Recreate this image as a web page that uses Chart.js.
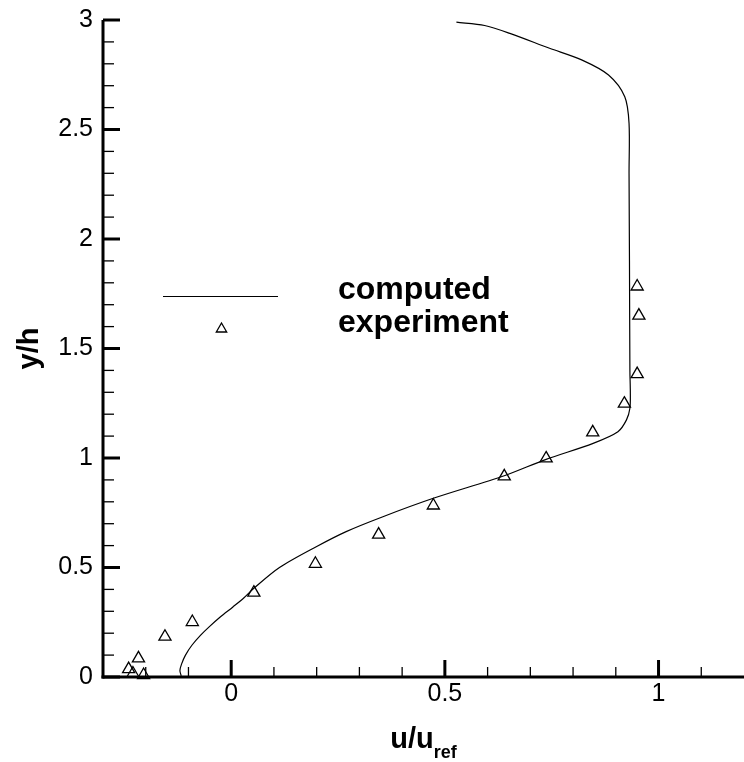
<!DOCTYPE html>
<html>
<head>
<meta charset="utf-8">
<script src="https://cdn.jsdelivr.net/npm/chart.js@4"></script>
<style>
  html, body { margin: 0; padding: 0; background: #fff; }
</style>
</head>
<body>
<canvas id="profile-chart" width="744" height="762"></canvas>
<script>
// computed velocity profile (u/u_ref vs y/h)
const computedU = [-0.117, -0.120, -0.116, -0.107, -0.092, -0.072, -0.051, -0.025, 0.004, 0.030, 0.053,
  0.113, 0.199, 0.269, 0.355, 0.473, 0.639, 0.737, 0.847, 0.905, 0.925, 0.933, 0.934, 0.933,
  0.932, 0.931, 0.931, 0.921, 0.883, 0.820, 0.745, 0.652, 0.593, 0.527];
const computedY = [0.005, 0.030, 0.060, 0.100, 0.145, 0.190, 0.230, 0.275, 0.320, 0.362, 0.405,
  0.500, 0.595, 0.664, 0.732, 0.816, 0.919, 0.994, 1.067, 1.120, 1.174, 1.227, 1.300, 1.400,
  1.900, 2.300, 2.528, 2.650, 2.749, 2.818, 2.871, 2.939, 2.975, 2.990];

// experiment
const expU = [-0.240, -0.230, -0.205, -0.217, -0.155, -0.091, 0.053, 0.197, 0.345, 0.473, 0.639,
  0.737, 0.846, 0.920, 0.950, 0.954, 0.950];
const expY = [0.036, 0.016, 0.009, 0.085, 0.184, 0.251, 0.385, 0.517, 0.650, 0.783, 0.916,
  0.998, 1.117, 1.248, 1.383, 1.650, 1.783];

const xTicks = [0, 0.5, 1];
const yTicks = [0, 0.5, 1, 1.5, 2, 2.5, 3];
const seriesNames = ['computed', 'experiment'];

const FONT = '"Liberation Sans", Arial, sans-serif';

function line(ctx, x1, y1, x2, y2) {
  ctx.beginPath();
  ctx.moveTo(x1, y1);
  ctx.lineTo(x2, y2);
  ctx.stroke();
}

function triangle(ctx, cx, cy, r) {
  ctx.beginPath();
  for (let i = 0; i < 3; i++) {
    const a = i * 2 * Math.PI / 3;
    const px = cx + Math.sin(a) * r, py = cy - Math.cos(a) * r;
    if (i === 0) ctx.moveTo(px, py); else ctx.lineTo(px, py);
  }
  ctx.closePath();
  ctx.stroke();
}

// axes, ticks, titles and legend drawn Tecplot-style
const framePlugin = {
  id: 'frame',
  afterDatasetsDraw(chart) {
    const { ctx, chartArea: a, scales: { x, y } } = chart;
    ctx.save();
    ctx.strokeStyle = '#000';
    ctx.fillStyle = '#000';

    // minor ticks every 0.1
    ctx.lineWidth = 1.3;
    for (let i = -2; i <= 11; i++) {
      const px = x.getPixelForValue(i / 10);
      line(ctx, px, a.bottom, px, a.bottom - 10);
    }
    for (let i = 1; i < 30; i++) {
      const py = y.getPixelForValue(i / 10);
      line(ctx, a.left, py, a.left + 11, py);
    }
    // major ticks
    ctx.lineWidth = 3;
    xTicks.forEach(v => { const px = x.getPixelForValue(v); line(ctx, px, a.bottom, px, a.bottom - 17); });
    yTicks.forEach(v => { const py = y.getPixelForValue(v); line(ctx, a.left, py, a.left + 17, py); });
    // axis lines
    line(ctx, a.left, a.top, a.left, a.bottom + 1.5);
    line(ctx, a.left - 1.5, a.bottom, a.right, a.bottom);

    // x title u/u_ref
    const cx = (a.left + a.right) / 2;
    ctx.textBaseline = 'alphabetic';
    ctx.textAlign = 'left';
    ctx.font = 'bold 29px ' + FONT;
    const w1 = ctx.measureText('u/u').width;
    ctx.font = 'bold 18px ' + FONT;
    const w2 = ctx.measureText('ref').width;
    const x0 = cx - (w1 + w2) / 2;
    ctx.font = 'bold 29px ' + FONT;
    ctx.fillText('u/u', x0, 748);
    ctx.font = 'bold 18px ' + FONT;
    ctx.fillText('ref', x0 + w1, 758);

    // y title
    ctx.save();
    ctx.translate(38, (a.top + a.bottom) / 2);
    ctx.rotate(-Math.PI / 2);
    ctx.textAlign = 'center';
    ctx.font = 'bold 29px ' + FONT;
    ctx.fillText('y/h', 0, 0);
    ctx.restore();

    // legend
    ctx.lineWidth = 1.2;
    line(ctx, 163, 296.5, 278, 296.5);
    ctx.lineWidth = 1.3;
    triangle(ctx, 221.5, 329, 6);
    ctx.font = 'bold 32px ' + FONT;
    ctx.textAlign = 'left';
    ctx.fillText(seriesNames[0], 338, 299);
    ctx.fillText(seriesNames[1], 338, 332);
    ctx.restore();
  }
};

const ctx = document.getElementById('profile-chart').getContext('2d');
const profileChart = new Chart(ctx, {
  type: 'scatter',
  data: {
    datasets: [{
      label: seriesNames[0],
      type: 'line',
      data: computedU.map((u, i) => ({ x: u, y: computedY[i] })),
      borderColor: '#000',
      borderWidth: 1.2,
      pointRadius: 0,
      tension: 0.3,
      fill: false,
      clip: false
    }, {
      label: seriesNames[1],
      data: expU.map((u, i) => ({ x: u, y: expY[i] })),
      pointStyle: 'triangle',
      pointRadius: 7,
      borderColor: '#000',
      borderWidth: 1.3,
      backgroundColor: 'rgba(0,0,0,0)',
      clip: false
    }]
  },
  options: {
    responsive: false,
    animation: false,
    layout: { autoPadding: false, padding: { top: 20, left: 0, right: 0, bottom: 0 } },
    plugins: { legend: { display: false }, tooltip: { enabled: false } },
    scales: {
      x: {
        type: 'linear',
        min: -0.3,
        max: 1.2,
        afterBuildTicks: s => { s.ticks = xTicks.map(v => ({ value: v })); },
        afterFit: s => { s.height = 85; s.paddingLeft = 0; s.paddingRight = 0; },
        grid: { display: false, drawTicks: false },
        border: { display: false },
        ticks: { color: '#000', font: { family: FONT, size: 25 }, padding: 2, maxRotation: 0, autoSkip: false,
          callback: v => String(v) }
      },
      y: {
        type: 'linear',
        min: 0,
        max: 3,
        afterBuildTicks: s => { s.ticks = yTicks.map(v => ({ value: v })); },
        afterFit: s => { s.width = 103; s.paddingTop = 0; s.paddingBottom = 0; },
        grid: { display: false, drawTicks: false },
        border: { display: false },
        ticks: { color: '#000', font: { family: FONT, size: 25 }, padding: 10, autoSkip: false,
          callback: v => String(v) }
      }
    }
  },
  plugins: [framePlugin]
});
</script>
</body>
</html>
